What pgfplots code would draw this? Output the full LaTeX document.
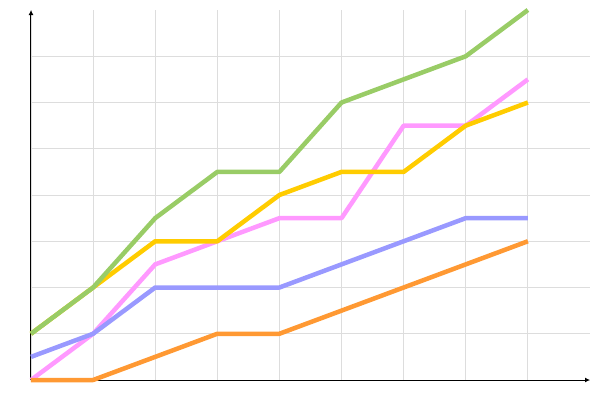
\documentclass[border=0pt]{standalone}
\usepackage{pgfplots}
\pgfplotsset{compat=1.18}
\usetikzlibrary{arrows.meta}
\definecolor{cgreen}{HTML}{99CC66}
\definecolor{cyellow}{HTML}{FFCC00}
\definecolor{cpink}{HTML}{FF99FF}
\definecolor{cblue}{HTML}{9999FF}
\definecolor{corange}{HTML}{FF9933}
\definecolor{cgrid}{HTML}{DDDDDD}
\begin{document}
\begin{tikzpicture}
\begin{axis}[
  scale only axis, width=559pt, height=370pt,
  xmin=0, xmax=9, ymin=0, ymax=8,
  axis lines=left,
  axis line style={black, line width=1pt, -{Latex[length=5pt,width=5pt]}},
  xtick={0,...,8}, ytick={0,...,7},
  xticklabels={}, yticklabels={},
  major tick length=0pt,
  grid=major, grid style={cgrid, line width=0.8pt},
  every axis plot/.append style={line width=4.5pt, line join=round, mark=none},
  clip=false,
]
\coordinate (o) at (axis cs:0,0);
\addplot[cpink] coordinates {(0,0) (1,1) (2,2.5) (3,3) (4,3.5) (5,3.5) (6,5.5) (7,5.5) (8,6.5)};
\addplot[cblue] coordinates {(0,0.5) (1,1) (2,2) (3,2) (4,2) (5,2.5) (6,3) (7,3.5) (8,3.5)};
\addplot[corange] coordinates {(0,0) (1,0) (2,0.5) (3,1) (4,1) (5,1.5) (6,2) (7,2.5) (8,3)};
\addplot[cyellow] coordinates {(0,1) (1,2) (2,3) (3,3) (4,4) (5,4.5) (6,4.5) (7,5.5) (8,6)};
\addplot[cgreen] coordinates {(0,1) (1,2) (2,3.5) (3,4.5) (4,4.5) (5,6) (6,6.5) (7,7) (8,8)};
\end{axis}
\pgfresetboundingbox
\path ([shift={(-31pt,-20pt)}]o) rectangle ([shift={(569pt,380pt)}]o);
\end{tikzpicture}
\end{document}
